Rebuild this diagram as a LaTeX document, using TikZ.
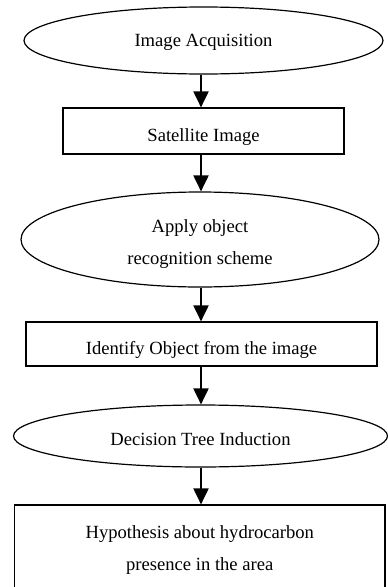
\documentclass[tikz,border=0pt]{standalone}
\usepackage{fontspec}
\setmainfont{Liberation Serif}
\usetikzlibrary{shapes.geometric,arrows.meta}
\begin{document}
\begin{tikzpicture}[x=1pt,y=-1pt,
  txt/.style={font=\fontsize{18.6}{32}\selectfont, align=center, inner sep=0pt},
  ellbox/.style={draw, ellipse, line width=1.2pt, inner sep=0pt},
  rectbox/.style={draw, rectangle, line width=1.2pt, inner sep=0pt},
  arr/.style={line width=2pt, -{Triangle[width=15pt,length=16pt]}}]
\useasboundingbox (0,0) rectangle (388,587);
\clip (0,0) rectangle (388,587);
\fill[white] (0,0) rectangle (388,587);
\coordinate (ax) at (201,0);
\node[ellbox, minimum width=359pt, minimum height=67pt] (e1) at (203.5,40.5) {};
\node[rectbox, minimum width=281pt, minimum height=46pt] (r1) at (203.5,131) {};
\node[ellbox, minimum width=358pt, minimum height=95pt] (e2) at (200,239.5) {};
\node[rectbox, minimum width=351pt, minimum height=44pt] (r2) at (201.5,344) {};
\node[ellbox, minimum width=374pt, minimum height=62pt] (e3) at (200.5,436) {};
\node[rectbox, minimum width=370.5pt, minimum height=84pt] (r3) at (199.75,547) {};
\node[txt, yshift=-2pt] (t1) at (e1.center) {Image Acquisition};
\node[txt, yshift=-6pt] (t2) at (r1.center) {Satellite Image};
\node[txt, yshift=-5pt] (t3) at (e2.center) {Apply object\\recognition scheme};
\node[txt, yshift=-6pt] (t4) at (r2.center) {Identify Object from the image};
\node[txt, yshift=-3pt] (t5) at (e3.center) {Decision Tree Induction};
\node[txt, yshift=-3.5pt] (t6) at (r3.center) {Hypothesis about hydrocarbon\\presence in the area};
\draw[arr] (e1.south -| ax) -- (r1.north -| ax);
\draw[arr] (r1.south -| ax) -- (e2.north -| ax);
\draw[arr] (e2.south -| ax) -- (r2.north -| ax);
\draw[arr] (r2.south -| ax) -- (e3.north -| ax);
\draw[arr] (e3.south -| ax) -- (r3.north -| ax);
\end{tikzpicture}
\end{document}
